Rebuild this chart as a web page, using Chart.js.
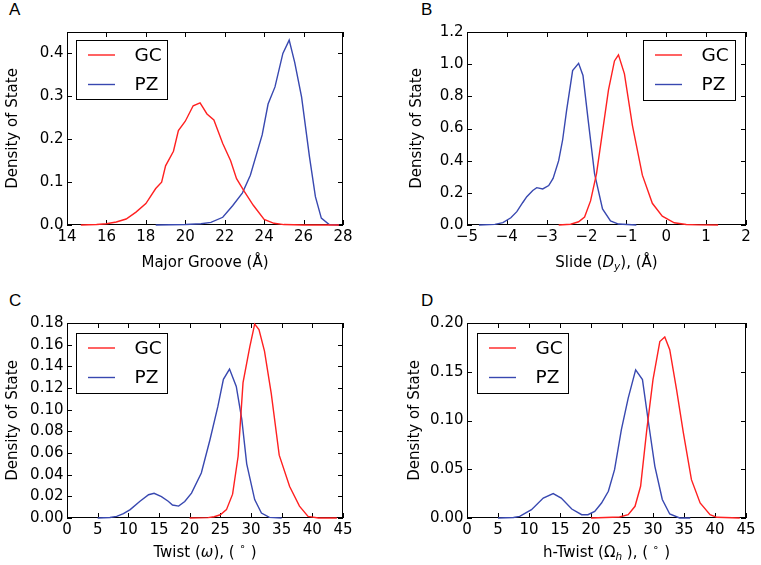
<!DOCTYPE html>
<html><head><meta charset="utf-8">
<script src="https://cdn.jsdelivr.net/npm/chart.js@4/dist/chart.umd.min.js"></script>
<style>
html,body{margin:0;padding:0;background:#fff;}
body{width:761px;height:565px;position:relative;overflow:hidden;}
canvas{position:absolute;}
.lbl{position:absolute;font:17px "Liberation Sans",Arial,sans-serif;color:#000;line-height:17px;}
</style></head><body>
<div class="lbl" style="left:9px;top:1px">A</div>
<div class="lbl" style="left:421px;top:1px">B</div>
<div class="lbl" style="left:9px;top:292px">C</div>
<div class="lbl" style="left:421px;top:292px">D</div>
<canvas id="cA"></canvas>
<canvas id="cB"></canvas>
<canvas id="cC"></canvas>
<canvas id="cD"></canvas>
<script>
// ---------------- DATA ----------------
const seriesLabels = ['GC', 'PZ'];

// Panel A: Major Groove
const grooveGC_x = [14.7,15.5,16,16.5,17,17.5,18,18.5,18.8,19,19.4,19.65,20,20.4,20.75,21.1,21.45,21.9,22.3,22.6,23,23.45,24,24.5,25,26,27.8];
const grooveGC_y = [0,0.001,0.003,0.007,0.014,0.03,0.05,0.085,0.1,0.138,0.172,0.22,0.242,0.278,0.285,0.259,0.245,0.19,0.15,0.108,0.078,0.046,0.013,0.004,0.001,0,0];
const groovePZ_x = [18.5,20,20.8,21.3,21.9,22.4,22.9,23.3,23.9,24.2,24.55,24.95,25.27,25.55,25.9,26.3,26.6,26.9,27.3,27.8];
const groovePZ_y = [0,0.001,0.003,0.006,0.018,0.045,0.075,0.116,0.21,0.282,0.322,0.4,0.431,0.379,0.298,0.159,0.066,0.016,0.001,0];
const grooveXTicks = [14,16,18,20,22,24,26,28];
const grooveYTicks = [0,0.1,0.2,0.3,0.4];

// Panel B: Slide
const slideGC_x = [-2.7,-2.4,-2.2,-2.05,-1.9,-1.75,-1.6,-1.45,-1.3,-1.2,-1.05,-0.85,-0.6,-0.35,-0.1,0.2,0.5,0.8,1.3];
const slideGC_y = [0,0.005,0.02,0.05,0.15,0.32,0.58,0.84,1.02,1.058,0.94,0.62,0.31,0.135,0.055,0.014,0.003,0.001,0];
const slidePZ_x = [-4.7,-4.3,-4.1,-3.9,-3.75,-3.6,-3.5,-3.35,-3.25,-3.1,-2.95,-2.84,-2.7,-2.6,-2.5,-2.35,-2.2,-2.09,-1.96,-1.8,-1.6,-1.4,-1.2,-0.75];
const slidePZ_y = [0,0.004,0.015,0.045,0.083,0.14,0.176,0.215,0.232,0.224,0.245,0.29,0.4,0.53,0.714,0.96,1.005,0.93,0.652,0.32,0.1,0.025,0.006,0];
const slideXTicks = [-5,-4,-3,-2,-1,0,1,2];
const slideYTicks = [0,0.2,0.4,0.6,0.8,1.0,1.2];

// Panel C: Twist
const twistGC_x = [20,23,24,25,26,27,27.9,28.7,29.8,30.6,31.3,32.2,33.3,34.6,36.3,37.9,39.3,41,44];
const twistGC_y = [0,0.0003,0.0012,0.003,0.0077,0.022,0.057,0.125,0.158,0.179,0.174,0.154,0.115,0.058,0.029,0.011,0.0015,0,0];
const twistPZ_x = [5,7,8.1,9.2,10.3,11.9,13.3,14.2,15.4,16.5,17.2,18.2,19.2,20.3,21.9,23.3,24.6,25.5,26.5,27.6,28.5,29.3,30.6,31.7,33,35];
const twistPZ_y = [0,0.0005,0.0015,0.004,0.0077,0.0154,0.0215,0.0228,0.0198,0.0155,0.012,0.011,0.0152,0.023,0.0415,0.072,0.103,0.128,0.1375,0.1215,0.091,0.05,0.017,0.0046,0.0006,0];
const twistXTicks = [0,5,10,15,20,25,30,35,40,45];
const twistYTicks = [0,0.02,0.04,0.06,0.08,0.10,0.12,0.14,0.16,0.18];

// Panel D: h-Twist
const hTwistGC_x = [20,24.6,26,27.1,28,29,30,31.1,31.9,32.7,33.8,34.9,36.2,37.6,39.2,40.3,44];
const hTwistGC_y = [0,0.001,0.0034,0.012,0.0325,0.0906,0.142,0.181,0.1856,0.1726,0.1316,0.0872,0.0393,0.0154,0.0034,0.0007,0];
const hTwistPZ_x = [5,7.5,8.5,10.4,12.3,13.9,15.2,16.9,18.5,19.5,20.6,21.7,22.8,23.8,24.9,26,27.2,28.3,29.2,30.3,31.5,32.7,34.3,36];
const hTwistPZ_y = [0,0.0005,0.0017,0.0085,0.0205,0.025,0.0205,0.0092,0.0034,0.0034,0.0068,0.0154,0.0274,0.0496,0.0906,0.123,0.152,0.142,0.101,0.053,0.019,0.0041,0,0];
const hTwistXTicks = [0,5,10,15,20,25,30,35,40,45];
const hTwistYTicks = [0,0.05,0.10,0.15,0.20];

// ---------------- STYLE / LAYOUT ----------------
const RED = '#ff2020';
const BLUE = '#3848b0';
const FAM = '"DejaVu Sans", "Bitstream Vera Sans", sans-serif';
const TICK_FONT = {family: FAM, size: 15, lineHeight: 1.2};
const TITLE_FONT = {family: FAM, size: 15, lineHeight: 1.2};
const LEG_SIZE = 18.5;
const LINE_W = 1.4;

const pts = (xs, ys) => xs.map((x, i) => ({x: x, y: ys[i]}));
const fmtMinus = v => String(v).replace('-', '\u2212');

const panels = [
  {id:'cA', cv:{left:0,top:0,w:380,h:280}, area:{l:67,r:343,t:32,b:225},
   gc:[grooveGC_x,grooveGC_y], pz:[groovePZ_x,groovePZ_y],
   x:{min:14,max:28,ticks:grooveXTicks}, y:{min:0,max:0.45,ticks:grooveYTicks,dec:1},
   xTitle:[{t:'Major Groove (\u00C5)'}], xBase:266.5, yCenter:13,
   leg:{side:'left', dx:9, dy:8, w:92, h:60}},
  {id:'cB', cv:{left:380,top:0,w:381,h:280}, area:{l:467,r:746,t:32,b:225},
   gc:[slideGC_x,slideGC_y], pz:[slidePZ_x,slidePZ_y],
   x:{min:-5,max:2,ticks:slideXTicks}, y:{min:0,max:1.2,ticks:slideYTicks,dec:1},
   xTitle:[{t:'Slide ('},{t:'D',it:1},{t:'y',it:1,sub:1},{t:'), (\u00C5)'}], xBase:266.5, yCenter:37,
   leg:{side:'right', dx:10, dy:8, w:93, h:61}},
  {id:'cC', cv:{left:0,top:280,w:380,h:285}, area:{l:67,r:343,t:323,b:518},
   gc:[twistGC_x,twistGC_y], pz:[twistPZ_x,twistPZ_y],
   x:{min:0,max:45,ticks:twistXTicks}, y:{min:0,max:0.18,ticks:twistYTicks,dec:2},
   xTitle:[{t:'Twist ('},{t:'\u03C9',it:1},{t:'), ( '},{t:'\u2218',sup:1},{t:' )'}], xBase:556.5, yCenter:13,
   leg:{side:'left', dx:9, dy:10, w:92, h:61}},
  {id:'cD', cv:{left:380,top:280,w:381,h:285}, area:{l:467,r:746,t:323,b:518},
   gc:[hTwistGC_x,hTwistGC_y], pz:[hTwistPZ_x,hTwistPZ_y],
   x:{min:0,max:45,ticks:hTwistXTicks}, y:{min:0,max:0.20,ticks:hTwistYTicks,dec:2},
   xTitle:[{t:'h-Twist ('},{t:'\u03A9'},{t:'h',it:1,sub:1},{t:' ), ( '},{t:'\u2218',sup:1},{t:' )'}], xBase:557, yCenter:35,
   leg:{side:'left', dx:10, dy:10, w:92, h:61}}
];

// frame (under the curves) + inward ticks on all four sides
const frameTicks = {
  id:'frameTicks',
  beforeDatasetsDraw(chart) {
    const {ctx, chartArea:a, scales:{x, y}} = chart;
    const L = Math.round(a.left), R = Math.round(a.right), T = Math.round(a.top), B = Math.round(a.bottom);
    ctx.save();
    ctx.strokeStyle = '#000'; ctx.lineWidth = 1;
    ctx.beginPath();
    x.ticks.forEach(t => {
      const p = Math.round(x.getPixelForValue(t.value)) + 0.5;
      ctx.moveTo(p, B); ctx.lineTo(p, B - 5);
      ctx.moveTo(p, T); ctx.lineTo(p, T + 5);
    });
    y.ticks.forEach(t => {
      const p = Math.round(y.getPixelForValue(t.value)) + 0.5;
      ctx.moveTo(L, p); ctx.lineTo(L + 5, p);
      ctx.moveTo(R, p); ctx.lineTo(R - 5, p);
    });
    ctx.stroke();
    ctx.strokeRect(L + 0.5, T + 0.5, R - L - 1, B - T - 1);
    ctx.restore();
  }
};

// legend box drawn inside the plot area
const insideLegend = {
  id:'insideLegend',
  afterDraw(chart, args, opts) {
    const {ctx, chartArea:a} = chart;
    const g = opts.box;
    const bx = Math.round(g.side === 'left' ? a.left + g.dx : a.right - g.dx - g.w);
    const by = Math.round(a.top + g.dy);
    ctx.save();
    ctx.fillStyle = '#fff';
    ctx.fillRect(bx, by, g.w, g.h);
    ctx.strokeStyle = '#000'; ctx.lineWidth = 1;
    ctx.strokeRect(bx + 0.5, by + 0.5, g.w - 1, g.h - 1);
    const rows = [15, 44.5];
    chart.data.datasets.forEach((ds, i) => {
      const yy = by + rows[i];
      ctx.strokeStyle = ds.borderColor; ctx.lineWidth = LINE_W;
      ctx.beginPath(); ctx.moveTo(bx + 12, yy); ctx.lineTo(bx + 39, yy); ctx.stroke();
      ctx.fillStyle = '#000';
      ctx.font = LEG_SIZE + 'px ' + FAM;
      ctx.textBaseline = 'middle'; ctx.textAlign = 'left';
      ctx.fillText(ds.label, bx + 58.5, yy + 1);
    });
    ctx.restore();
  }
};

// x axis title with math-like segments
const richXTitle = {
  id:'richXTitle',
  afterDraw(chart, args, opts) {
    const {ctx, chartArea:a} = chart;
    const segs = opts.segments;
    const size = TITLE_FONT.size;
    const fontFor = s => (s.it ? 'italic ' : '') + ((s.sub || s.sup) ? size * 0.7 : size) + 'px ' + FAM;
    ctx.save();
    let total = 0;
    segs.forEach(s => { ctx.font = fontFor(s); s.w = ctx.measureText(s.t).width; total += s.w; });
    let xx = (a.left + a.right) / 2 - total / 2;
    ctx.fillStyle = '#000'; ctx.textBaseline = 'alphabetic'; ctx.textAlign = 'left';
    segs.forEach(s => {
      ctx.font = fontFor(s);
      let yy = opts.baseline;
      if (s.sub) yy += size * 0.22;
      if (s.sup) yy -= size * 0.42;
      ctx.fillText(s.t, xx, yy);
      xx += s.w;
    });
    ctx.restore();
  }
};

panels.forEach(p => {
  const cv = document.getElementById(p.id);
  cv.width = p.cv.w; cv.height = p.cv.h;
  cv.style.left = p.cv.left + 'px'; cv.style.top = p.cv.top + 'px';
  const yAxisW = p.area.l - p.cv.left;
  const xAxisH = p.cv.top + p.cv.h - p.area.b;
  new Chart(cv, {
    type:'line',
    data:{datasets:[
      {label:seriesLabels[0], data:pts(p.gc[0], p.gc[1]), borderColor:RED, borderWidth:LINE_W, pointRadius:0, tension:0, fill:false, clip:2},
      {label:seriesLabels[1], data:pts(p.pz[0], p.pz[1]), borderColor:BLUE, borderWidth:LINE_W, pointRadius:0, tension:0, fill:false, clip:2}
    ]},
    options:{
      responsive:false, animation:false, devicePixelRatio:1,
      layout:{padding:{left:0, top:p.area.t - p.cv.top, right:p.cv.left + p.cv.w - p.area.r, bottom:0}},
      plugins:{
        legend:{display:false}, tooltip:{enabled:false},
        insideLegend:{box:p.leg},
        richXTitle:{segments:p.xTitle, baseline:p.xBase - p.cv.top}
      },
      scales:{
        x:{type:'linear', min:p.x.min, max:p.x.max,
           afterBuildTicks:s => { s.ticks = p.x.ticks.map(v => ({value:v})); },
           afterFit:s => { s.height = xAxisH; },
           grid:{display:false, drawTicks:false}, border:{display:false},
           ticks:{padding:2.7, font:TICK_FONT, color:'#000', maxRotation:0, autoSkip:false, callback:v => fmtMinus(v)}},
        y:{type:'linear', min:p.y.min, max:p.y.max,
           afterBuildTicks:s => { s.ticks = p.y.ticks.map(v => ({value:v})); },
           afterFit:s => { s.width = yAxisW; },
           grid:{display:false, drawTicks:false}, border:{display:false},
           ticks:{padding:3.5, font:TICK_FONT, color:'#000', autoSkip:false, callback:v => Number(v).toFixed(p.y.dec)},
           title:{display:true, text:'Density of State', color:'#000', font:TITLE_FONT, padding:{top:p.yCenter - 9, bottom:0}}}
      }
    },
    plugins:[frameTicks, insideLegend, richXTitle]
  });
});
</script>
</body></html>
